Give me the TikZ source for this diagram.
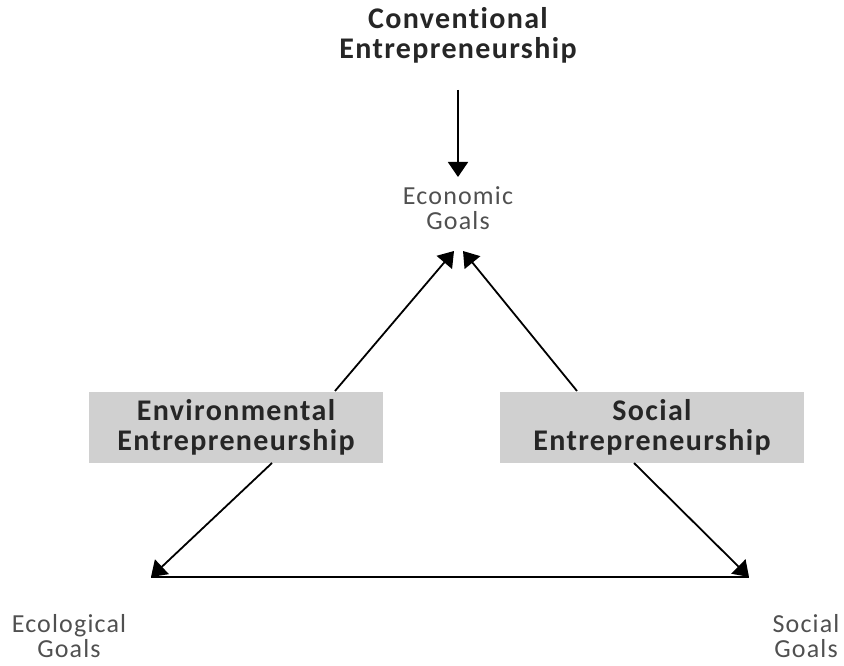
\documentclass[tikz,border=0pt]{standalone}
\usepackage{fontspec}
\setmainfont{Carlito}[LetterSpace=4.5, Ligatures=NoCommon]
\usetikzlibrary{arrows.meta}
\definecolor{boxgray}{HTML}{D0D0D0}
\definecolor{txtgray}{HTML}{505050}
\tikzset{
  x=1pt,y=-1pt,
  title/.style={font=\fontsize{30}{30}\selectfont\bfseries, text=black!85, align=center, inner sep=0pt},
  goal/.style={font=\fontsize{26}{25}\selectfont, text=txtgray, align=center, inner sep=0pt},
  graybox/.style={fill=boxgray, draw=none, minimum height=71pt, inner sep=0pt,
    font=\fontsize{30}{30}\selectfont\bfseries, text=black!85, align=center},
  arr/.style={line width=1.8pt, -{Triangle[length=15pt,width=20pt]}},
  ln/.style={line width=1.8pt}
}
\begin{document}
\begin{tikzpicture}
\useasboundingbox (0,0) rectangle (844,666);
\node[title] (conv) at (458,35) {Conventional\\Entrepreneurship};
\node[goal] (econ) at (458,208) {Economic\\Goals};
\node[graybox, minimum width=294pt] (env) at (236,427.5) {Environmental\\Entrepreneurship};
\node[graybox, minimum width=304pt] (soc) at (652,427.5) {Social\\Entrepreneurship};
\node[goal] (ecol) at (69,636) {Ecological\\Goals};
\node[goal] (socg) at (806,636) {Social\\Goals};
\coordinate (vtop) at (458,90);
\coordinate (vbot) at (458,177);
\coordinate (apexL) at (454,251);
\coordinate (apexR) at (463,251);
\coordinate (envT) at (335,391);
\coordinate (envB) at (272,463);
\coordinate (socT) at (577,391);
\coordinate (socB) at (634,463);
\coordinate (cL) at (151,577);
\coordinate (cR) at (749,577);
\draw[arr] (vtop) -- (vbot);
\draw[arr] (envT) -- (apexL);
\draw[arr] (socT) -- (apexR);
\draw[arr] (envB) -- (cL);
\draw[arr] (socB) -- (cR);
\draw[ln] (cL) -- (cR);
\end{tikzpicture}
\end{document}
